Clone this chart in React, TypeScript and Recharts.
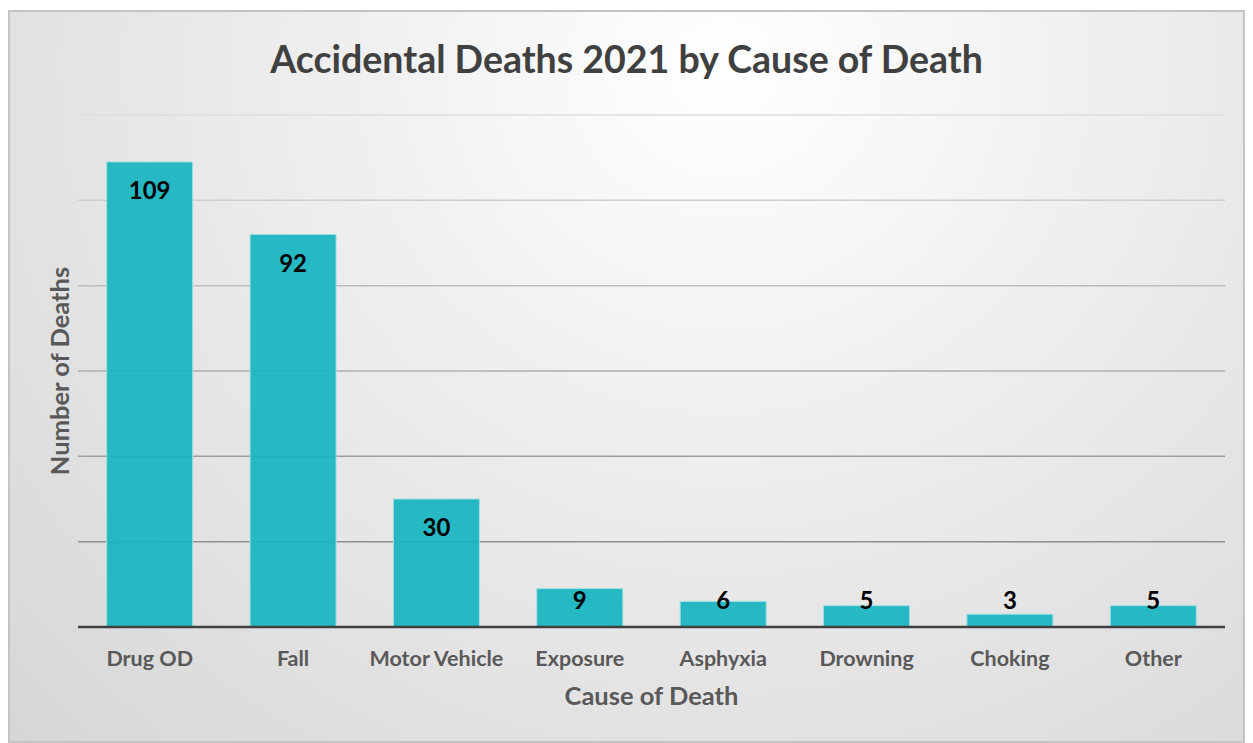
import { Bar, BarChart, CartesianGrid, XAxis, YAxis } from "recharts";

const causes = ["Drug OD", "Fall", "Motor Vehicle", "Exposure", "Asphyxia", "Drowning", "Choking", "Other"];
const deaths = [109, 92, 30, 9, 6, 5, 3, 5];
const yTicks = [0, 20, 40, 60, 80, 100, 120];

const rows = causes.map((cause, i) => ({ cause, deaths: deaths[i] }));

const FONT = "Lato, 'Open Sans', sans-serif";
const PLOT_TOP = 103;
const PLOT_BOTTOM = 615;

function ValueLabel(props: any) {
  const { x, y, width, height, value } = props;
  const cy = Math.min(y + 29, y + height - 26);
  return (
    <text x={x + width / 2} y={cy} dy="0.35em" textAnchor="middle" fontFamily={FONT} fontWeight={700} fontSize={24} fill="#000">
      {value}
    </text>
  );
}

function CauseTick(props: any) {
  const { x, y, payload } = props;
  return (
    <text x={x} y={y} dy={31} textAnchor="middle" fontFamily={FONT} fontWeight={700} fontSize={21.5} fill="#595959">
      {payload.value}
    </text>
  );
}

// grid lines fade from light at the top to darker near the axis
function GridLine(props: any) {
  const { x1, x2, y1, y2 } = props;
  const yy = Number(y1);
  const t = Number.isFinite(yy) ? Math.max(0, Math.min(1, (yy - PLOT_TOP) / (PLOT_BOTTOM - PLOT_TOP))) : 0.5;
  const c = Math.round(222 - t * 95);
  return <line x1={x1} x2={x2} y1={y1} y2={y2} stroke={`rgb(${c},${c},${c})`} strokeWidth={1.5} />;
}

export default function App() {
  return (
    <div
      style={{
        position: "relative",
        marginTop: 2,
        width: 1233,
        height: 729,
        border: "2px solid #c4c4c4",
        background: "radial-gradient(ellipse farthest-corner at 58% 8%, #ffffff 0%, #eeeeee 40%, #d6d6d6 100%)",
        fontFamily: FONT,
      }}
    >
      <div
        style={{
          position: "absolute",
          top: 22,
          left: 0,
          width: "100%",
          textAlign: "center",
          fontSize: 37.5,
          fontWeight: 700,
          color: "#404040",
          lineHeight: "50px",
        }}
      >
        Accidental Deaths 2021 by Cause of Death
      </div>
      <BarChart width={1233} height={729} data={rows} margin={{ top: PLOT_TOP, right: 18, left: 8, bottom: 24 }} barCategoryGap="20%">
        <CartesianGrid vertical={false} horizontal={<GridLine />} />
        <YAxis
          domain={[0, 120]}
          ticks={yTicks}
          tick={() => <g />}
          tickLine={false}
          axisLine={false}
          width={60}
          label={{
            value: "Number of Deaths",
            angle: -90,
            position: "insideLeft",
            offset: 42,
            style: { textAnchor: "middle", fontFamily: FONT, fontWeight: 700, fontSize: 25.5, fill: "#595959" },
          }}
        />
        <XAxis
          dataKey="cause"
          height={90}
          tickLine={false}
          axisLine={{ stroke: "#404040", strokeWidth: 2.5 }}
          tick={<CauseTick />}
          label={{
            value: "Cause of Death",
            position: "insideBottom",
            offset: 12,
            style: { fontFamily: FONT, fontWeight: 700, fontSize: 25.5, fill: "#595959" },
          }}
        />
        <Bar
          dataKey="deaths"
          fill="#1ab5c0"
          fillOpacity={0.94}
          stroke="#9fe0e4"
          strokeWidth={1}
          isAnimationActive={false}
          label={<ValueLabel />}
        />
      </BarChart>
    </div>
  );
}
